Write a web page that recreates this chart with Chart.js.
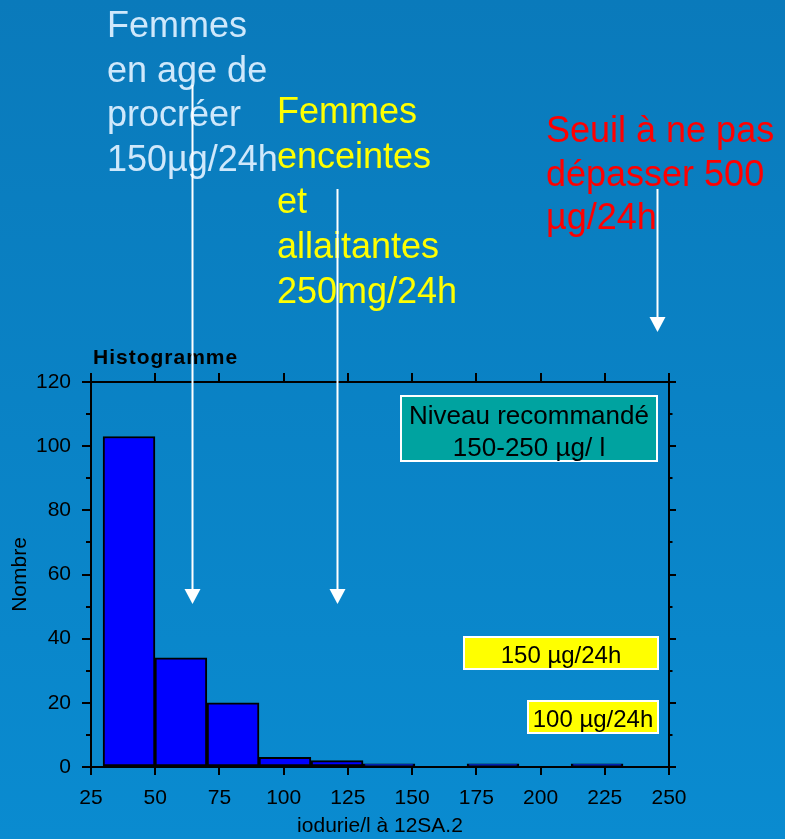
<!DOCTYPE html>
<html lang="fr">
<head>
<meta charset="utf-8">
<title>Histogramme</title>
<script src="https://cdn.jsdelivr.net/npm/chart.js@4.4.1/dist/chart.umd.min.js"></script>
<style>
  html, body { margin: 0; padding: 0; }
  body { width: 785px; height: 839px; overflow: hidden; }
  #wrap { position: relative; width: 785px; height: 839px; }
</style>
</head>
<body>
<div id="wrap"><canvas id="histoChart"></canvas></div>
<script>
// Histogram of iodurie/l - classes (centre) and counts
const binCenters = [39.8, 60.0, 80.3, 100.5, 120.8, 141.0, 161.3, 181.5, 201.7, 222.0];
const counts = [103, 34, 20, 3, 2, 1, 0, 1, 0, 1];
const xTicks = [25, 50, 75, 100, 125, 150, 175, 200, 225, 250];
const yTicks = [0, 20, 40, 60, 80, 100, 120];
const yMinorTicks = [10, 30, 50, 70, 90, 110];

// annotation texts
const femmesAgeLines = ["Femmes", "en age de", "procréer", "150µg/24h"];
const femmesEnceintesLines = ["Femmes", "enceintes", "et", "allaitantes", "250mg/24h"];
const seuilLines = ["Seuil à ne pas", "dépasser 500", "µg/24h"];
const niveauLines = ["Niveau recommandé", "150-250 µg/ l"];
const apportLabels = ["150 µg/24h", "100 µg/24h"];
// arrows: x position and tip height, in axis units
const arrowX = [64.3, 120.8, 245.3];
const arrowTip = [50.8, 50.8, 135.6];

const FONT = "'Liberation Sans', Arial, sans-serif";

document.addEventListener("DOMContentLoaded", () => {
  const ctxEl = document.getElementById("histoChart");

  // slide background (blue gradient)
  const backgroundPlugin = {
    id: "slideBackground",
    beforeDraw(chart) {
      const { ctx, width, height } = chart;
      const g = ctx.createLinearGradient(0, 0, 0, height);
      g.addColorStop(0, "#0a7abb");
      g.addColorStop(1, "#0a8bd0");
      ctx.save();
      ctx.fillStyle = g;
      ctx.fillRect(0, 0, width, height);
      ctx.restore();
    },
  };

  // minor ticks on left and right axes
  const minorTicksPlugin = {
    id: "minorTicks",
    afterDraw(chart) {
      const { ctx, scales } = chart;
      ctx.save();
      ctx.strokeStyle = "#000";
      ctx.lineWidth = 2;
      yMinorTicks.forEach((v) => {
        const py = Math.round(scales.y.getPixelForValue(v));
        ctx.beginPath();
        ctx.moveTo(scales.y.right - 5, py);
        ctx.lineTo(scales.y.right, py);
        ctx.moveTo(scales.y2.left, py);
        ctx.lineTo(scales.y2.left + 3.5, py);
        ctx.stroke();
      });
      ctx.restore();
    },
  };

  function drawLines(ctx, lines, x, y0, step, color) {
    ctx.fillStyle = color;
    lines.forEach((t, i) => ctx.fillText(t, x, y0 + i * step));
  }

  function drawBox(ctx, x, y, w, h, fill) {
    ctx.fillStyle = fill;
    ctx.fillRect(x, y, w, h);
    ctx.strokeStyle = "#fff";
    ctx.lineWidth = 2;
    ctx.strokeRect(x, y, w, h);
  }

  const annotationPlugin = {
    id: "slideAnnotations",
    afterDraw(chart) {
      const { ctx, scales } = chart;
      ctx.save();

      // title
      ctx.fillStyle = "#000";
      ctx.font = "bold 21px " + FONT;
      ctx.textAlign = "left";
      ctx.textBaseline = "alphabetic";
      if ("letterSpacing" in ctx) ctx.letterSpacing = "1px";
      ctx.fillText("Histogramme", 93, 364);
      if ("letterSpacing" in ctx) ctx.letterSpacing = "0px";

      // recommended level box
      drawBox(ctx, 401, 396, 256, 65, "#00a3a0");
      ctx.fillStyle = "#000";
      ctx.font = "26px " + FONT;
      ctx.textAlign = "center";
      ctx.fillText(niveauLines[0], 529, 424);
      ctx.fillText(niveauLines[1], 529, 456);

      // yellow boxes
      ctx.font = "24px " + FONT;
      drawBox(ctx, 464, 637, 194, 32, "#ffff00");
      ctx.fillStyle = "#000";
      ctx.fillText(apportLabels[0], 561, 663);
      drawBox(ctx, 528, 701, 130, 32, "#ffff00");
      ctx.fillStyle = "#000";
      ctx.fillText(apportLabels[1], 593, 727);

      // big texts
      ctx.textAlign = "left";
      ctx.font = "36px " + FONT;
      drawLines(ctx, femmesAgeLines, 107, 37, 44.5, "#cfe8fb");
      drawLines(ctx, femmesEnceintesLines, 277, 123, 45, "#ffff00");
      drawLines(ctx, seuilLines, 546, 142, 43.5, "#ff0000");

      // arrows
      const arrowStart = [85, 189, 189];
      ctx.strokeStyle = "#fff";
      ctx.fillStyle = "#fff";
      ctx.lineWidth = 2;
      arrowX.forEach((v, i) => {
        const px = Math.round(scales.x.getPixelForValue(v)) + 0.5;
        const tip = scales.y.getPixelForValue(arrowTip[i]);
        ctx.beginPath();
        ctx.moveTo(px, arrowStart[i]);
        ctx.lineTo(px, tip - 14);
        ctx.stroke();
        ctx.beginPath();
        ctx.moveTo(px - 8, tip - 15);
        ctx.lineTo(px + 8, tip - 15);
        ctx.lineTo(px, tip);
        ctx.closePath();
        ctx.fill();
      });

      ctx.restore();
    },
  };

  const axisGrid = (len) => ({
    drawOnChartArea: false,
    drawTicks: true,
    tickLength: len,
    color: "#000",
    lineWidth: 2,
    offset: false,
  });
  const axisBorder = { display: true, color: "#000", width: 2 };
  const tickFont = { family: FONT, size: 21 };

  new Chart(ctxEl, {
    type: "bar",
    data: {
      datasets: [
        {
          label: "Nombre",
          data: binCenters.map((x, i) => ({ x, y: counts[i] > 0 ? counts[i] : null })),
          backgroundColor: "#0000ff",
          borderColor: "#000",
          borderWidth: 2,
          borderSkipped: false,
          categoryPercentage: 1,
          barPercentage: 1,
        },
      ],
    },
    options: {
      responsive: true,
      maintainAspectRatio: false,
      animation: false,
      layout: { padding: 0 },
      plugins: {
        legend: { display: false },
        tooltip: { enabled: false },
      },
      scales: {
        x: {
          type: "linear",
          position: "bottom",
          min: 25,
          max: 250,
          offset: false,
          afterBuildTicks: (s) => { s.ticks = xTicks.map((v) => ({ value: v })); },
          afterFit: (s) => { s.height = 72; },
          ticks: { color: "#000", font: tickFont, padding: 11, maxRotation: 0, autoSkip: false },
          grid: axisGrid(8),
          border: axisBorder,
          title: {
            display: true,
            text: "iodurie/l à 12SA.2",
            color: "#000",
            font: { family: FONT, size: 21 },
            padding: { top: 0, bottom: 0 },
          },
        },
        x2: {
          type: "linear",
          position: "top",
          min: 25,
          max: 250,
          offset: false,
          afterBuildTicks: (s) => { s.ticks = xTicks.map((v) => ({ value: v })); },
          afterFit: (s) => { s.height = 382; },
          ticks: { display: false },
          grid: axisGrid(9),
          border: axisBorder,
        },
        y: {
          type: "linear",
          position: "left",
          min: 0,
          max: 120,
          afterBuildTicks: (s) => { s.ticks = yTicks.map((v) => ({ value: v })); },
          afterFit: (s) => { s.width = 91; },
          ticks: { color: "#000", font: tickFont, padding: 11 },
          grid: axisGrid(9),
          border: axisBorder,
          title: {
            display: true,
            text: "Nombre",
            color: "#000",
            font: { family: FONT, size: 21 },
            padding: { top: 8, bottom: 0 },
          },
        },
        y2: {
          type: "linear",
          position: "right",
          min: 0,
          max: 120,
          afterBuildTicks: (s) => { s.ticks = yTicks.map((v) => ({ value: v })); },
          afterFit: (s) => { s.width = 116; },
          ticks: { display: false },
          grid: axisGrid(7),
          border: axisBorder,
        },
      },
    },
    plugins: [backgroundPlugin, minorTicksPlugin, annotationPlugin],
  });
});
</script>
</body>
</html>
